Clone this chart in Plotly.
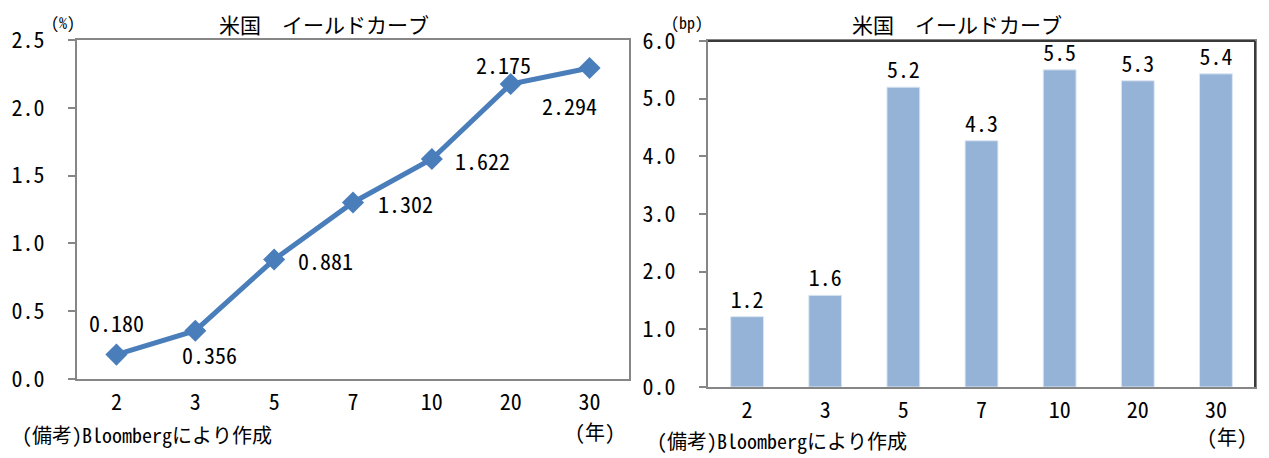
import plotly.graph_objects as go
from plotly.subplots import make_subplots

# 年限
maturities = ["2", "3", "5", "7", "10", "20", "30"]
# 利回り (%)
yields = [0.180, 0.356, 0.881, 1.302, 1.622, 2.175, 2.294]
# 変化幅 (bp)
changes_bp = [1.22, 1.59, 5.2, 4.27, 5.5, 5.31, 5.43]

left_ticks = [0.0, 0.5, 1.0, 1.5, 2.0, 2.5]
right_ticks = [0.0, 1.0, 2.0, 3.0, 4.0, 5.0, 6.0]

title_text = "米国　イールドカーブ"
note_text = "(備考)Bloombergにより作成"

W, H = 1269, 458
PAD = 8  # page body margin around the plot div

def px(x):
    return (x - PAD) / W

def py(y):
    return 1 - (y - PAD) / H

FONT = "Noto Sans Mono CJK JP, Noto Sans CJK JP, DejaVu Sans Mono, monospace"
line_color = "#4a7ebb"
bar_color = "#95b3d7"
axis_grey = "#868686"

fig = make_subplots(rows=1, cols=2)

fig.add_trace(go.Scatter(
    x=maturities, y=yields, mode="lines+markers",
    line=dict(color=line_color, width=5),
    marker=dict(symbol="diamond", size=17, color=line_color),
    cliponaxis=False, showlegend=False, hoverinfo="x+y"), row=1, col=1)

fig.add_trace(go.Bar(
    x=maturities, y=changes_bp, width=0.42,
    marker=dict(color=bar_color, line=dict(color="#dce6f2", width=1)),
    text=["%.1f" % v for v in changes_bp], textposition="outside",
    textfont=dict(family=FONT, size=22, color="black"),
    cliponaxis=False, showlegend=False), row=1, col=2)

axis_common = dict(showgrid=False, zeroline=False, showline=True, linecolor=axis_grey,
                   linewidth=2, mirror=True, automargin=False,
                   tickfont=dict(family=FONT, size=22, color="black"))

n = len(maturities)
fig.update_xaxes(axis_common, type="category", ticks="", ticklabelstandoff=3,
                 range=[-0.5, n - 0.5])
fig.update_yaxes(axis_common, ticks="outside", ticklen=7, tickcolor=axis_grey, tickwidth=2,
                 ticklabelstandoff=19)

fig.update_xaxes(domain=[px(77), px(629)], row=1, col=1)
fig.update_yaxes(domain=[py(379), py(40)], range=[0, 2.5],
                 tickvals=left_ticks, ticktext=["%.1f" % v for v in left_ticks], row=1, col=1)
fig.update_xaxes(domain=[px(708), px(1255)], row=1, col=2)
fig.update_yaxes(domain=[py(387), py(41)], range=[0, 6.0],
                 tickvals=right_ticks, ticktext=["%.1f" % v for v in right_ticks], row=1, col=2)

# right panel: darker frame on top and right edges
fig.add_shape(type="line", xref="x2 domain", yref="y2 domain", x0=0, x1=1, y0=1, y1=1,
              line=dict(color="#3a3a3a", width=2))
fig.add_shape(type="line", xref="x2 domain", yref="y2 domain", x0=1, x1=1, y0=0, y1=1,
              line=dict(color="#3a3a3a", width=2))

ann = []
# data labels of the line, placed like the original (offset in pixels from each point)
label_shift = [(0, 33), (14, -23), (51, 0), (52, -1), (51, -1), (-7, 20), (-20, -37)]
for i, (v, (dx, dy)) in enumerate(zip(yields, label_shift)):
    # category index i on the category axis
    ann.append(dict(x=i, y=v, xref="x", yref="y", text="%.3f" % v, showarrow=False,
                    xshift=dx, yshift=dy, font=dict(family=FONT, size=22, color="black")))

for cx, unit, ux, note_x, note_y, nen_x, nen_y in [
        (324, "(%)", 63, 20, 434, 595, 431),
        (957, "(bp)", 687, 655, 440, 1227, 436)]:
    ann.append(dict(text=title_text, x=px(cx), y=1, xref="paper", yref="paper",
                    xanchor="center", yanchor="top", borderpad=0, showarrow=False,
                    font=dict(family=FONT, size=21, color="black")))
    ann.append(dict(text=unit, x=px(ux), y=1, xref="paper", yref="paper",
                    xanchor="center", yanchor="top", showarrow=False,
                    font=dict(family=FONT, size=16, color="black")))
    ann.append(dict(text=note_text, x=px(note_x), y=py(note_y), xref="paper", yref="paper",
                    xanchor="left", yanchor="middle", showarrow=False,
                    font=dict(family=FONT, size=20, color="black")))
    ann.append(dict(text="(年)", x=px(nen_x), y=py(nen_y), xref="paper", yref="paper",
                    xanchor="center", yanchor="middle", showarrow=False,
                    font=dict(family=FONT, size=20, color="black")))

fig.update_layout(width=W, height=H, margin=dict(l=0, r=0, t=0, b=0),
                  paper_bgcolor="white", plot_bgcolor="white", annotations=ann)

fig.write_html("out.html")
